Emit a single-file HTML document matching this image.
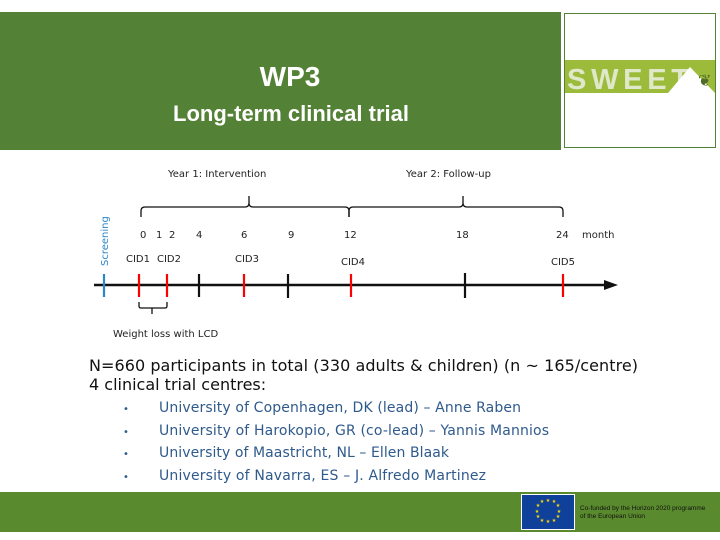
<!DOCTYPE html>
<html><head><meta charset="utf-8"><style>
html,body{margin:0;padding:0;background:#fff;}
svg{display:block;}
</style></head><body>
<svg width="720" height="540" viewBox="0 0 720 540" xmlns="http://www.w3.org/2000/svg">
<rect x="0" y="12" width="561" height="138" fill="#538135"/>
<text x="290" y="86" font-family="Liberation Sans, sans-serif" font-weight="bold" font-size="28" fill="#fff" text-anchor="middle">WP3</text>
<text x="291" y="121" font-family="Liberation Sans, sans-serif" font-weight="bold" font-size="22" fill="#fff" text-anchor="middle">Long-term clinical trial</text>
<rect x="564.5" y="13.5" width="151" height="134" fill="#fff" stroke="#538135" stroke-width="1"/>
<rect x="565" y="60" width="150" height="33" fill="#9dbb3a"/>
<text x="567" y="89" font-family="Liberation Sans, sans-serif" font-weight="bold" font-size="29" fill="#dfe8c8" textLength="122">SWEET</text>
<polygon points="668,93 690,67 715,93" fill="#fff"/>
<text x="698" y="86" font-family="DejaVu Sans, sans-serif" font-size="16" fill="#4f6b2a">❦</text>
<g font-family="DejaVu Sans, sans-serif" font-size="10" fill="#222">
<text x="168" y="177">Year 1:  Intervention</text>
<text x="406" y="177">Year 2: Follow-up</text>
<text x="140" y="238">0</text><text x="156" y="238">1</text><text x="169" y="238">2</text>
<text x="196" y="238">4</text><text x="241" y="238">6</text><text x="288" y="238">9</text>
<text x="344" y="238">12</text><text x="456" y="238">18</text><text x="556" y="238">24</text>
<text x="582" y="238">month</text>
<text x="126" y="262">CID1</text><text x="157" y="262">CID2</text><text x="235" y="262">CID3</text>
<text x="341" y="265">CID4</text><text x="551" y="265">CID5</text>
<text x="113" y="337">Weight loss with LCD</text>
<text transform="translate(108,266) rotate(-90)" fill="#2e86c8">Screening</text>
</g>
<g fill="none" stroke="#111" stroke-width="1.3">
<path d="M141,217 v-6 q0,-4 4,-4 h100 q4,0 4,-4 v-7 M249,196 v7 q0,4 4,4 h92 q4,0 4,4 v6"/>
<path d="M349,217 v-6 q0,-4 4,-4 h106 q4,0 4,-4 v-7 M463,196 v7 q0,4 4,4 h92 q4,0 4,4 v6"/>
<path d="M139,302 v4 q0,2 2,2 h11 v6 M152,308 h13 q2,0 2,-2 v-4"/>
</g>
<line x1="94" y1="285" x2="606" y2="285" stroke="#111" stroke-width="2.5"/>
<polygon points="604,280 618,285 604,290" fill="#111"/>
<g stroke-width="2.2">
<line x1="104" y1="274" x2="104" y2="297" stroke="#2e86c8"/>
<line x1="139" y1="274" x2="139" y2="297" stroke="#f00"/>
<line x1="167" y1="274" x2="167" y2="297" stroke="#f00"/>
<line x1="199" y1="274" x2="199" y2="297" stroke="#111"/>
<line x1="244" y1="274" x2="244" y2="297" stroke="#f00"/>
<line x1="288" y1="274" x2="288" y2="298" stroke="#111"/>
<line x1="351" y1="274" x2="351" y2="297" stroke="#f00"/>
<line x1="465" y1="273" x2="465" y2="298" stroke="#111"/>
<line x1="563" y1="274" x2="563" y2="297" stroke="#f00"/>
</g>
<g font-family="DejaVu Sans, sans-serif" font-size="16" fill="#111">
<text x="89" y="371" textLength="549">N=660 participants in total (330 adults &amp; children) (n ~ 165/centre)</text>
<text x="89" y="390">4 clinical trial centres:</text>
</g>
<g font-family="DejaVu Sans, sans-serif" font-size="14" fill="#2f5a8c">
<text x="123" y="412" font-size="10">•</text>
<text x="123" y="435" font-size="10">•</text>
<text x="123" y="457" font-size="10">•</text>
<text x="123" y="480" font-size="10">•</text>
<text x="159" y="412" textLength="362">University of Copenhagen, DK (lead) – Anne Raben</text>
<text x="159" y="435" textLength="390">University of Harokopio, GR (co-lead) – Yannis Mannios</text>
<text x="159" y="457" textLength="290">University of Maastricht, NL – Ellen Blaak</text>
<text x="159" y="480" textLength="327">University of Navarra, ES – J. Alfredo Martinez</text>
</g>
<rect x="0" y="492" width="720" height="40" fill="#5a8a2e"/>
<rect x="521" y="494" width="54" height="36" fill="#fff"/>
<rect x="522" y="495" width="52" height="34" fill="#10419a"/>
<g fill="#ffdd00" font-size="5" font-family="DejaVu Sans, sans-serif" text-anchor="middle">
<text x="548" y="502">★</text><text x="554" y="503">★</text><text x="558" y="507">★</text><text x="559" y="513">★</text><text x="558" y="518">★</text><text x="554" y="522">★</text><text x="548" y="523">★</text><text x="542" y="522">★</text><text x="538" y="518">★</text><text x="537" y="513">★</text><text x="538" y="507">★</text><text x="542" y="503">★</text>
</g>
<g font-family="Liberation Sans, sans-serif" font-size="6.5" fill="#111">
<text x="580" y="510">Co-funded by the Horizon 2020 programme</text>
<text x="580" y="518">of the European Union</text>
</g>
</svg>
</body></html>
